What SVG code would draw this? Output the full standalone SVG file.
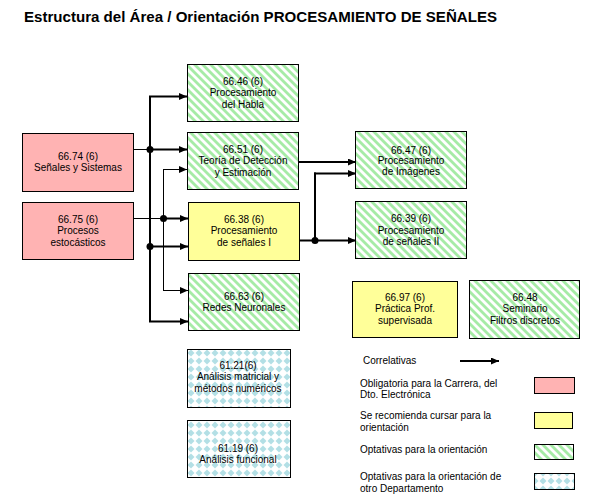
<svg xmlns="http://www.w3.org/2000/svg" width="589" height="501" viewBox="0 0 589 501">
<defs>
<style>
.box{stroke:#000;stroke-width:1}
.req{fill:#FFB3B3}
.rec{fill:#FFFF99}
.opt{fill:url(#hatch)}
.oth{fill:url(#dots)}
.t{font-family:"Liberation Sans",Arial,sans-serif;font-size:10px;fill:#000;text-anchor:middle}
.l{font-family:"Liberation Sans",Arial,sans-serif;font-size:10px;fill:#000}
.title{font-family:"Liberation Sans",Arial,sans-serif;font-size:15.5px;font-weight:bold;fill:#000}
.thick{stroke:#000;stroke-width:2;fill:none}
.thin{stroke:#000;stroke-width:1;fill:none}
.arr{marker-end:url(#ah)}
</style>
<pattern id="hatch" width="5.66" height="5.66" patternUnits="userSpaceOnUse" patternTransform="rotate(-45)">
<rect width="5.66" height="5.66" fill="#fff"/>
<rect width="2.83" height="5.66" fill="#A6EBA6"/>
</pattern>
<pattern id="dots" width="8" height="8" patternUnits="userSpaceOnUse" x="187" y="349">
<rect width="8" height="8" fill="#fff"/>
<polygon points="4,0.5 7.5,4 4,7.5 0.5,4" fill="#B3DFE5"/>
</pattern>
<marker id="ah" markerWidth="8" markerHeight="7" refX="8" refY="3.5" orient="auto" markerUnits="userSpaceOnUse">
<polygon points="0,0 8,3.5 0,7" fill="#000"/>
</marker>
</defs>
<rect width="589" height="501" fill="#fff"/>
<text class="title" x="24" y="22" textLength="473" lengthAdjust="spacingAndGlyphs">Estructura del Área / Orientación PROCESAMIENTO DE SEÑALES</text>

<g id="connectors">
<line class="thin" x1="133" y1="149.5" x2="150" y2="149.5"/>
<line class="thin" x1="133" y1="218.5" x2="163" y2="218.5"/>
<line class="thick" x1="150" y1="96.5" x2="150" y2="322"/>
<line class="thin" x1="163.5" y1="169" x2="163.5" y2="290"/>
<line class="thick arr" x1="149" y1="96.5" x2="187" y2="96.5"/>
<line class="thick arr" x1="150" y1="149.5" x2="187" y2="149.5"/>
<line class="thick arr" x1="150" y1="246.5" x2="188" y2="246.5"/>
<line class="thick arr" x1="149" y1="321.5" x2="188" y2="321.5"/>
<line class="thin arr" x1="163" y1="169.5" x2="187" y2="169.5"/>
<line class="thick arr" x1="163" y1="218.5" x2="188" y2="218.5"/>
<line class="thin arr" x1="163" y1="290.5" x2="188" y2="290.5"/>
<circle cx="150" cy="149.5" r="3.5" fill="#000"/>
<circle cx="150" cy="246.5" r="3.5" fill="#000"/>
<circle cx="163.5" cy="218.5" r="3.5" fill="#000"/>
<line class="thick arr" x1="299" y1="162" x2="356" y2="162"/>
<line class="thick arr" x1="299" y1="240.5" x2="356" y2="240.5"/>
<polyline class="thick" points="315,240.5 315,173.5 316,173.5"/>
<line class="thick arr" x1="314" y1="173.5" x2="356" y2="173.5"/>
<circle cx="315" cy="240.5" r="3.5" fill="#000"/>
<line class="thick arr" x1="460" y1="361" x2="499" y2="361"/>
</g>

<g id="n6674"><rect class="box req" x="22.5" y="133.5" width="111" height="58"/>
<text class="t" x="78" y="159.5">66.74 (6)</text><text class="t" x="78" y="171">Señales y Sistemas</text></g>
<g id="n6675"><rect class="box req" x="22.5" y="202.5" width="111" height="57"/>
<text class="t" x="78" y="222.5">66.75 (6)</text><text class="t" x="78" y="234">Procesos</text><text class="t" x="78" y="245.5">estocásticos</text></g>
<g id="n6646"><rect class="box opt" x="187.5" y="64.5" width="111" height="57"/>
<text class="t" x="243" y="84.5">66.46 (6)</text><text class="t" x="243" y="96">Procesamiento</text><text class="t" x="243" y="107.5">del Habla</text></g>
<g id="n6651"><rect class="box opt" x="187.5" y="132.5" width="111" height="57"/>
<text class="t" x="243" y="152.5">66.51 (6)</text><text class="t" x="243" y="164">Teoría de Detección</text><text class="t" x="243" y="175.5">y Estimación</text></g>
<g id="n6638"><rect class="box rec" x="188.5" y="202.5" width="111" height="58"/>
<text class="t" x="244" y="222.5">66.38 (6)</text><text class="t" x="244" y="234">Procesamiento</text><text class="t" x="244" y="245.5">de señales I</text></g>
<g id="n6663"><rect class="box opt" x="188.5" y="273.5" width="111" height="57"/>
<text class="t" x="244" y="300">66.63  (6)</text><text class="t" x="244" y="311">Redes Neuronales</text></g>
<g id="n6647"><rect class="box opt" x="355.5" y="131.5" width="111" height="57"/>
<text class="t" x="411" y="153.5">66.47 (6)</text><text class="t" x="411" y="164">Procesamiento</text><text class="t" x="411" y="175">de Imágenes</text></g>
<g id="n6639"><rect class="box opt" x="355.5" y="201.5" width="111" height="57"/>
<text class="t" x="411" y="222">66.39 (6)</text><text class="t" x="411" y="233.5">Procesamiento</text><text class="t" x="411" y="245">de señales II</text></g>
<g id="n6697"><rect class="box rec" x="352.5" y="281.5" width="105" height="56"/>
<text class="t" x="405" y="300.5">66.97 (6)</text><text class="t" x="405" y="312">Práctica Prof.</text><text class="t" x="405" y="323.5">supervisada</text></g>
<g id="n6648"><rect class="box opt" x="469.5" y="280.5" width="110" height="58"/>
<text class="t" x="525" y="300.5">66.48</text><text class="t" x="525" y="312">Seminario</text><text class="t" x="525" y="323.5">Filtros discretos</text></g>
<g id="n6121"><rect class="box oth" x="187.5" y="349.5" width="103" height="58"/>
<text class="t" x="238" y="368.5">61.21(6)</text><text class="t" x="238" y="380">Análisis matricial y</text><text class="t" x="238" y="391.5">métodos numéricos</text></g>
<g id="n6119"><rect class="box oth" x="187.5" y="420.5" width="103" height="57"/>
<text class="t" x="238" y="451.5">61.19 (6)</text><text class="t" x="238" y="462.5">Análisis funcional</text></g>

<g id="legend">
<text class="l" x="363" y="364">Correlativas</text>
<text class="l" x="360" y="386.5">Obligatoria para la Carrera, del</text>
<text class="l" x="360" y="398">Dto. Electrónica</text>
<rect class="box req" x="534.5" y="377.5" width="40" height="16"/>
<text class="l" x="360" y="418.5">Se recomienda cursar para la</text>
<text class="l" x="360" y="430.5">orientación</text>
<rect class="box rec" x="534.5" y="412.5" width="38" height="16"/>
<text class="l" x="360" y="453">Optativas para la orientación</text>
<rect class="box opt" x="534.5" y="444.5" width="39" height="15"/>
<text class="l" x="360" y="480">Optativas para la orientación de</text>
<text class="l" x="360" y="492">otro Departamento</text>
<rect class="box oth" x="534.5" y="473.5" width="40" height="16"/>
</g>
</svg>
